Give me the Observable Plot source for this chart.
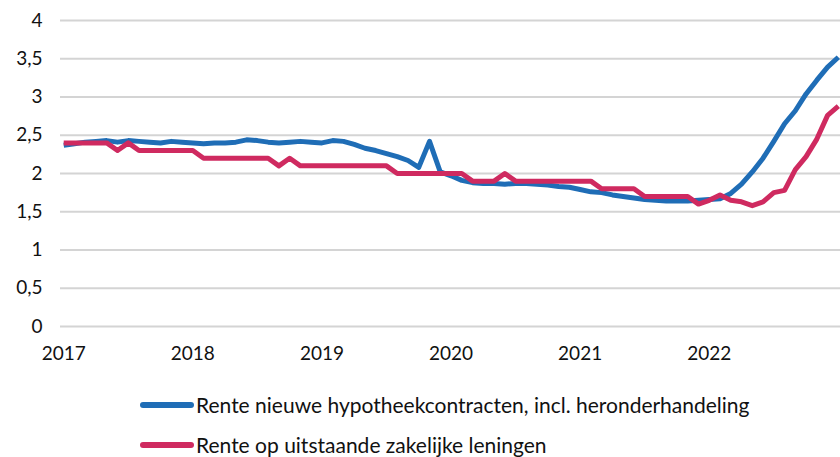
<!DOCTYPE html>
<html>
<head>
<meta charset="utf-8">
<script src="https://cdn.jsdelivr.net/npm/d3@7"></script>
<script src="https://cdn.jsdelivr.net/npm/@observablehq/plot@0.6"></script>
<style>
  body { margin: 0; background: #ffffff; font-family: Lato, "Open Sans", sans-serif; }
  #chart { width: 840px; height: 457px; overflow: hidden; position: relative; }
  .legend { position: absolute; left: 140px; font-size: 21px; color: #111; }
  .row { position: absolute; left: 0; white-space: nowrap; display: flex; align-items: center; }
  .sw { display: inline-block; width: 54px; height: 6px; border-radius: 3px; margin-right: 2px; }
</style>
</head>
<body>
<div id="chart"></div>
<script>
// Monthly series, Jan 2017 .. Jan 2023 (percent)
const seriesNames = [
  "Rente nieuwe hypotheekcontracten, incl. heronderhandeling",
  "Rente op uitstaande zakelijke leningen"
];
const seriesColors = ["#1f6db6", "#cf2a60"];
const mortgageRate = [
  2.37, 2.39, 2.41, 2.42, 2.43, 2.41, 2.43, 2.42, 2.41, 2.40, 2.42, 2.41,
  2.40, 2.39, 2.40, 2.40, 2.41, 2.44, 2.43, 2.41, 2.40, 2.41, 2.42, 2.41,
  2.40, 2.43, 2.42, 2.38, 2.33, 2.30, 2.26, 2.22, 2.17, 2.08, 2.42, 2.02,
  1.97, 1.91, 1.88, 1.87, 1.87, 1.86, 1.87, 1.87, 1.86, 1.85, 1.83, 1.82,
  1.79, 1.76, 1.75, 1.72, 1.70, 1.68, 1.66, 1.65, 1.64, 1.64, 1.64, 1.65,
  1.66, 1.67, 1.74, 1.86, 2.02, 2.20, 2.42, 2.65, 2.82, 3.04, 3.22, 3.39,
  3.52
];
const businessRate = [
  2.40, 2.40, 2.40, 2.40, 2.40, 2.30, 2.40, 2.30, 2.30, 2.30, 2.30, 2.30,
  2.30, 2.20, 2.20, 2.20, 2.20, 2.20, 2.20, 2.20, 2.10, 2.20, 2.10, 2.10,
  2.10, 2.10, 2.10, 2.10, 2.10, 2.10, 2.10, 2.00, 2.00, 2.00, 2.00, 2.00,
  2.00, 2.00, 1.90, 1.90, 1.90, 2.00, 1.90, 1.90, 1.90, 1.90, 1.90, 1.90,
  1.90, 1.90, 1.80, 1.80, 1.80, 1.80, 1.70, 1.70, 1.70, 1.70, 1.70, 1.60,
  1.65, 1.72, 1.65, 1.63, 1.58, 1.63, 1.75, 1.78, 2.05, 2.22, 2.45, 2.76,
  2.88
];
const yearLabels = ["2017", "2018", "2019", "2020", "2021", "2022"];
const yTicks = [0, 0.5, 1, 1.5, 2, 2.5, 3, 3.5, 4];

const data = [];
mortgageRate.forEach((v, i) => data.push({i, v, s: seriesNames[0]}));
businessRate.forEach((v, i) => data.push({i, v, s: seriesNames[1]}));
const xTicks = yearLabels.map((_, k) => k * 12);
const fmt = d => String(d).replace(".", ",");

const plot = Plot.plot({
  width: 840,
  height: 375,
  marginTop: 20,
  marginBottom: 49,
  marginLeft: 60,
  marginRight: 0,
  style: {fontFamily: "Lato, 'Open Sans', sans-serif", fontSize: "19px", color: "#111", background: "transparent"},
  x: {domain: [-0.3, 72.2], ticks: xTicks, tickFormat: i => yearLabels[i / 12], tickSize: 0, tickPadding: 20, label: null},
  y: {domain: [0, 4], ticks: yTicks, tickFormat: fmt, tickSize: 0, tickPadding: 18, label: null},
  color: {domain: seriesNames, range: seriesColors},
  marks: [
    Plot.gridY(yTicks, {stroke: "#d4d4d4", strokeWidth: 2, strokeOpacity: 1}),
    Plot.axisX({ticks: xTicks, tickFormat: i => yearLabels[i / 12], tickSize: 0, tickPadding: 20, fontSize: 19}),
    Plot.axisY({ticks: yTicks, tickFormat: fmt, tickSize: 0, tickPadding: 18, fontSize: 19}),
    Plot.line(data, {x: "i", y: "v", z: "s", stroke: "s", strokeWidth: 5, strokeLinejoin: "round", strokeLinecap: "butt"})
  ]
});
const chart = document.getElementById("chart");
chart.appendChild(plot);

const legend = document.createElement("div");
legend.className = "legend";
legend.style.top = "0px";
seriesNames.forEach((name, k) => {
  const row = document.createElement("div");
  row.className = "row";
  row.style.top = (392 + k * 40) + "px";
  const sw = document.createElement("span");
  sw.className = "sw";
  sw.style.background = seriesColors[k];
  const t = document.createElement("span");
  t.textContent = name;
  row.appendChild(sw);
  row.appendChild(t);
  legend.appendChild(row);
});
chart.appendChild(legend);
</script>
</body>
</html>
